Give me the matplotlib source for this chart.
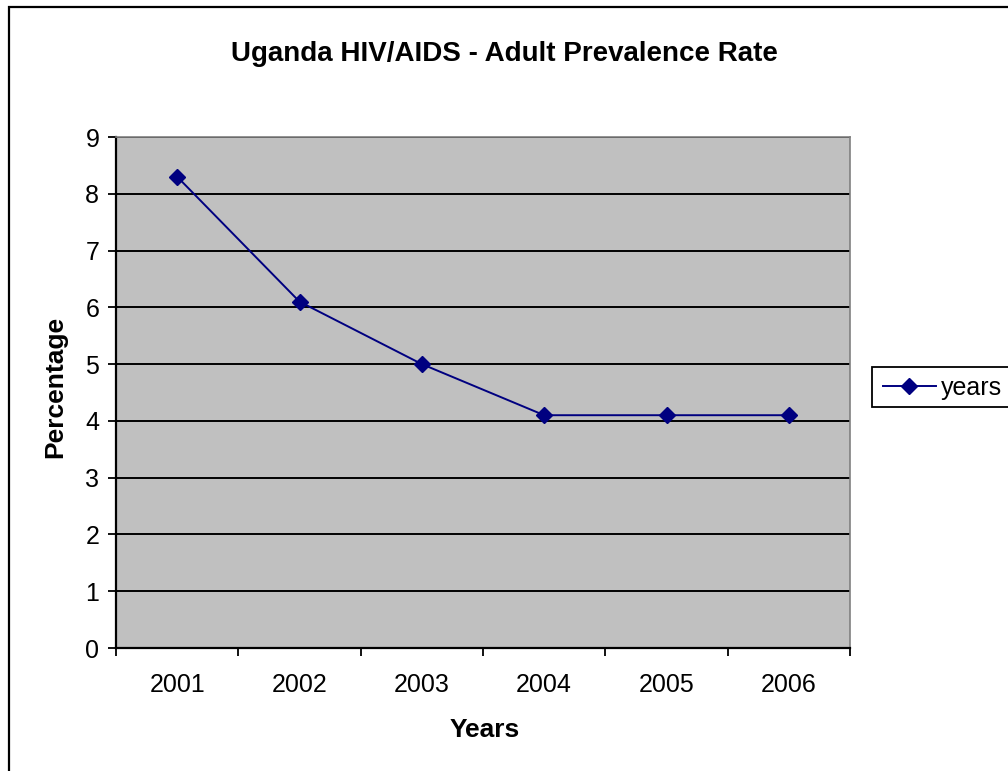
import matplotlib
matplotlib.use("Agg")
import matplotlib.pyplot as plt
from matplotlib.patches import Rectangle

plt.rcParams['font.family'] = ['Liberation Sans', 'DejaVu Sans']

years = ["2001", "2002", "2003", "2004", "2005", "2006"]
prevalence = [8.3, 6.1, 5.0, 4.1, 4.1, 4.1]
y_ticks = [0, 1, 2, 3, 4, 5, 6, 7, 8, 9]

W, H = 1008, 771
fig = plt.figure(figsize=(W / 100, H / 100), dpi=100)
fig.patch.set_facecolor("white")

# outer chart border (runs off the right and bottom edges)
fig.patches.append(Rectangle((9 / W, -0.05), 1.2, 1 - 7 / H + 0.05,
                             transform=fig.transFigure, fill=False,
                             edgecolor="black", linewidth=1.6))

ax = fig.add_axes([116 / W, 1 - 648 / H, (850 - 116) / W, (648 - 137) / H])
ax.set_facecolor("#c0c0c0")

x = list(range(len(years)))
ax.plot(x, prevalence, color="#000080", linewidth=1.4, marker="D",
        markersize=8, label="years", zorder=3)

ax.set_xlim(-0.5, len(years) - 0.5)
ax.set_ylim(0, 9)
ax.set_yticks(y_ticks)
ax.yaxis.grid(True, color="black", linewidth=1.4)
ax.set_axisbelow(True)

# category boundaries get the tick marks, labels sit between them
ax.set_xticks([i - 0.5 for i in range(len(years) + 1)])
ax.set_xticklabels([])
ax.set_xticks(x, minor=True)
ax.set_xticklabels(years, minor=True)
ax.tick_params(axis="x", which="minor", length=0, pad=18, labelsize=18)
ax.tick_params(axis="x", which="major", length=6, width=1.3, direction="out")
ax.tick_params(axis="y", length=6, width=1.3, direction="out", pad=6, labelsize=18)

for side in ["left", "bottom"]:
    ax.spines[side].set_color("black")
    ax.spines[side].set_linewidth(1.6)
for side in ["top", "right"]:
    ax.spines[side].set_color("#808080")
    ax.spines[side].set_linewidth(1.2)

fig.text(504 / W, 1 - 61 / H, "Uganda HIV/AIDS - Adult Prevalence Rate",
         ha="center", va="baseline", fontsize=20, fontweight="bold")
fig.text(485 / W, 1 - 737 / H, "Years", ha="center", va="baseline",
         fontsize=19, fontweight="bold")
fig.text(55 / W, 1 - 387 / H, "Percentage", ha="center", va="center",
         rotation=90, fontsize=19, fontweight="bold")

# legend box is cut by the right edge of the image
ax.add_patch(Rectangle((872 / W, 1 - 407 / H), 150 / W, 40 / H,
                       transform=fig.transFigure, facecolor="white",
                       edgecolor="black", linewidth=1.3, zorder=4,
                       clip_on=False))
leg = ax.legend(loc="center left", bbox_to_anchor=(878 / W, 1 - 388 / H),
                bbox_transform=fig.transFigure, borderaxespad=0,
                fontsize=18, frameon=False, handlelength=2.1,
                handletextpad=0.2, borderpad=0.2)
leg.set_zorder(5)

fig.savefig("out.png", dpi=100)
